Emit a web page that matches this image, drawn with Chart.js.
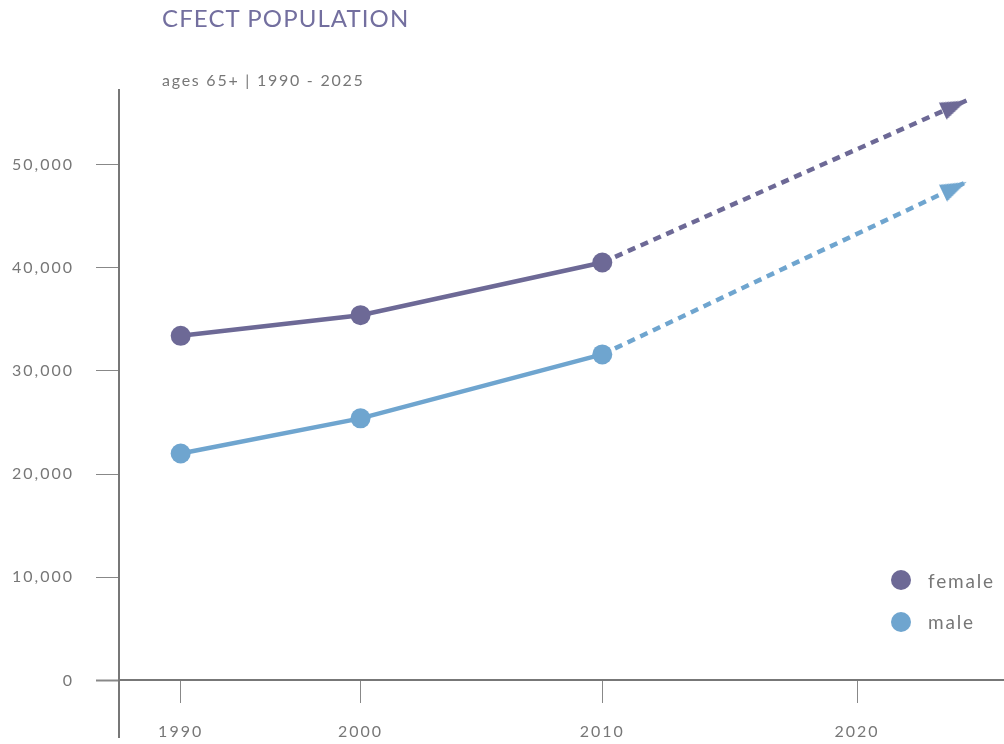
<!DOCTYPE html>
<html>
<head>
<meta charset="utf-8">
<script src="https://cdn.jsdelivr.net/npm/chart.js@4.4.1/dist/chart.umd.min.js"></script>
<style>
  body { margin: 0; background: #fff; font-family: Lato, "Open Sans", sans-serif; }
  #wrap { position: relative; width: 1004px; height: 744px; overflow: hidden; }
  #chart { position: absolute; left: 0; top: 0; }
  .title { position: absolute; left: 162px; top: 3px; font-size: 24px; color: #736f9f; letter-spacing: 1.1px; white-space: nowrap; }
  .subtitle { position: absolute; left: 162px; top: 70px; font-size: 16px; color: #777; letter-spacing: 1.75px; white-space: nowrap; }
  .legend-item { position: absolute; left: 891px; display: flex; align-items: center; font-size: 19px; color: #777; letter-spacing: 1.8px; white-space: nowrap; }
  .legend-item .dot { width: 20px; height: 20px; border-radius: 50%; margin-right: 17px; }
</style>
</head>
<body>
<div id="wrap">
  <canvas id="chart" width="1004" height="744"></canvas>
  <div class="title">CFECT POPULATION</div>
  <div class="subtitle">ages 65+ | 1990 - 2025</div>
</div>
<script>
// population aged 65+, observed 1990-2010, projected to 2025
const years = [1990, 2000, 2010, 2025];
const femaleValues = [33400, 35400, 40500, 56200];
const maleValues = [22000, 25400, 31600, 48300];
const lastObservedYear = 2010;

const xTickYears = [1990, 2000, 2010, 2020];
const yTickValues = [0, 10000, 20000, 30000, 40000, 50000];

const FEMALE = '#6d6996';
const MALE = '#6fa5cf';
const AXIS = '#777';

// the year axis is not evenly spaced: each knot pins a year to a share of the plot width
const X_KNOTS = [[1990, 0.0697], [2000, 0.2729], [2010, 0.5461], [2020, 0.8339], [2025, 0.9576]];

function interp(xs, ys, v) {
  let i = 0;
  while (i < xs.length - 2 && v > xs[i + 1]) i++;
  const t = (v - xs[i]) / (xs[i + 1] - xs[i]);
  return ys[i] + t * (ys[i + 1] - ys[i]);
}

class WarpScale extends Chart.LinearScale {
  static id = 'warp';

  getPixelForValue(value) {
    const f = interp(X_KNOTS.map(k => k[0]), X_KNOTS.map(k => k[1]), value);
    return this.left + f * this.width;
  }

  getValueForPixel(pixel) {
    const f = (pixel - this.left) / this.width;
    return interp(X_KNOTS.map(k => k[1]), X_KNOTS.map(k => k[0]), f);
  }
}
Chart.register(WarpScale);

// axes sit on fixed margins, so label overflow must not shrink the plot
function noPadding(scale) {
  scale.paddingLeft = scale.paddingRight = scale.paddingTop = scale.paddingBottom = 0;
}

// arrowhead bitmap, tip at the centre so it sits right on the data point
function makeArrowHead(color) {
  const len = 26, half = 9.3;
  const c = document.createElement('canvas');
  c.width = len * 2 + 2;
  c.height = 21;
  const g = c.getContext('2d');
  const cx = c.width / 2, cy = c.height / 2;
  g.fillStyle = color;
  g.beginPath();
  g.moveTo(cx, cy);
  g.lineTo(cx - len, cy - half);
  g.lineTo(cx - len, cy + half);
  g.closePath();
  g.fill();
  return c;
}

function arrowAngle(ctx) {
  const { chart, dataIndex, datasetIndex } = ctx;
  if (!dataIndex) return 0;
  const data = chart.data.datasets[datasetIndex].data;
  const a = data[dataIndex - 1], b = data[dataIndex];
  const xs = chart.scales.x, ys = chart.scales.y;
  const dx = xs.getPixelForValue(b.x) - xs.getPixelForValue(a.x);
  const dy = ys.getPixelForValue(b.y) - ys.getPixelForValue(a.y);
  return Math.atan2(dy, dx) * 180 / Math.PI;
}

function series(label, values, color) {
  const arrow = makeArrowHead(color);
  const last = values.length - 1;
  return {
    label: label,
    data: years.map((yr, i) => ({ x: yr, y: values[i] })),
    borderColor: color,
    backgroundColor: color,
    borderWidth: 4.5,
    tension: 0,
    clip: false,
    pointRadius: 10,
    pointBorderWidth: 0,
    pointBackgroundColor: color,
    pointStyle: ctx => ctx.dataIndex === last ? arrow : 'circle',
    pointRotation: ctx => ctx.dataIndex === last ? arrowAngle(ctx) : 0,
    segment: {
      borderDash: ctx => ctx.p0.parsed.x >= lastObservedYear ? [8, 6] : undefined
    }
  };
}

const spacing = {
  id: 'spacing',
  beforeDraw(chart) { chart.ctx.letterSpacing = '2px'; }
};

const chart = new Chart(document.getElementById('chart'), {
  type: 'line',
  data: {
    datasets: [
      series('female', femaleValues, FEMALE),
      series('male', maleValues, MALE)
    ]
  },
  options: {
    responsive: false,
    animation: false,
    events: [],
    layout: { autoPadding: false, padding: { top: 90, bottom: 7, left: 0, right: 0 } },
    plugins: { legend: { display: false }, title: { display: false }, tooltip: { enabled: false } },
    scales: {
      x: {
        type: 'warp',
        position: { y: 0 },
        min: 1986.5,
        max: 2026.8,
        afterBuildTicks: scale => { scale.ticks = xTickYears.map(value => ({ value })); },
        afterFit: noPadding,
        border: { display: true, color: AXIS, width: 2 },
        grid: { drawOnChartArea: false, drawTicks: true, tickLength: 22, tickColor: '#888', tickWidth: 1 },
        ticks: {
          color: AXIS,
          padding: 20,
          font: { family: 'Lato', size: 16 },
          maxRotation: 0,
          callback: value => String(value)
        }
      },
      y: {
        type: 'linear',
        position: 'left',
        min: -5475,
        max: 57219,
        afterBuildTicks: scale => { scale.ticks = yTickValues.map(value => ({ value })); },
        afterFit: scale => { noPadding(scale); scale.width = 119; },
        border: { display: true, color: AXIS, width: 2 },
        grid: {
          drawOnChartArea: false, drawTicks: true, tickLength: 23, tickColor: '#888',
          tickWidth: ctx => ctx.tick && ctx.tick.value === 0 ? 2 : 1
        },
        ticks: {
          color: AXIS,
          padding: 22,
          font: { family: 'Lato', size: 16 },
          callback: value => value.toLocaleString('en-US')
        }
      }
    }
  },
  plugins: [spacing]
});

// legend built from the datasets
const wrap = document.getElementById('wrap');
chart.data.datasets.forEach((ds, i) => {
  const item = document.createElement('div');
  item.className = 'legend-item';
  item.style.top = (568.6 + i * 41.7) + 'px';
  const dot = document.createElement('span');
  dot.className = 'dot';
  dot.style.background = ds.borderColor;
  item.appendChild(dot);
  item.appendChild(document.createTextNode(ds.label));
  wrap.appendChild(item);
});
</script>
</body>
</html>
